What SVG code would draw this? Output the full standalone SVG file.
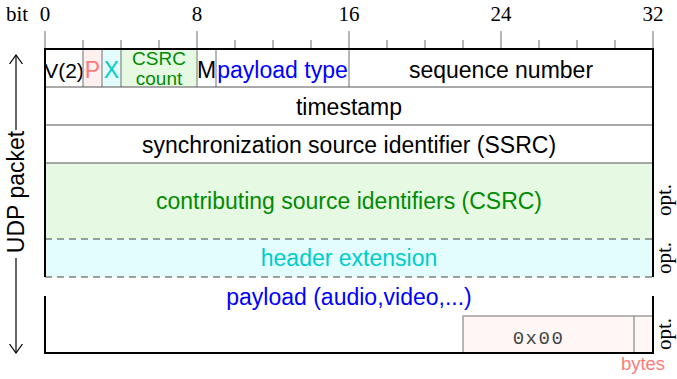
<svg xmlns="http://www.w3.org/2000/svg" width="677" height="379" viewBox="0 0 677 379">
<defs>
<style>
.s{font-family:"Liberation Sans",Arial,sans-serif;font-size:23px;text-anchor:middle}
.r{font-family:"Liberation Serif","Times New Roman",serif;font-size:21px;text-anchor:middle;fill:#000}
.tk{stroke:#888;stroke-width:1.2}
.dv{stroke:#888;stroke-width:1.2}
.rw{stroke:#555;stroke-width:1.2}
.bd{stroke:#000;stroke-width:2;fill:none}
.ds{stroke:#444;stroke-width:1.2;stroke-dasharray:7,5}
</style>
<marker id="ah" viewBox="0 0 10 20" refX="9" refY="10" markerWidth="10" markerHeight="20" markerUnits="userSpaceOnUse" orient="auto-start-reverse">
<path d="M0,3.5 L9,10 L0,16.5" fill="none" stroke="#000" stroke-width="1.2"/>
</marker>
</defs>
<rect width="677" height="379" fill="#fff"/>

<g id="scale">
<text class="r" x="17" y="21">bit</text>
<text class="r" x="45" y="21">0</text>
<text class="r" x="197" y="21">8</text>
<text class="r" x="349" y="21">16</text>
<text class="r" x="501" y="21">24</text>
<text class="r" x="653" y="21">32</text>
<path class="tk" d="M45,31V49M197,31V49M349,31V49M501,31V49M653,31V49"/>
<path class="tk" d="M83,40V49M121,40V49M159,40V49M235,40V49M273,40V49M311,40V49M387,40V49M425,40V49M463,40V49M539,40V49M577,40V49M615,40V49"/>
</g>

<g id="csrc-list">
<rect x="45" y="163" width="608" height="76" fill="#e6f9e3"/>
<text class="s" x="349" y="209" fill="#008c00">contributing source identifiers (CSRC)</text>
</g>
<g id="header-extension">
<rect x="45" y="239" width="608" height="38" fill="#e3fdfd"/>
<text class="s" x="349" y="266" fill="#00cccc">header extension</text>
</g>

<g id="version">
<text class="s" x="64" y="77.5" style="font-size:21px" fill="#000">V(2)</text>
</g>
<g id="padding-bit">
<rect x="83" y="49" width="19" height="38" fill="#fff0f0"/>
<text class="s" x="92.5" y="77.5" fill="#ff7b7b">P</text>
</g>
<g id="extension-bit">
<rect x="102" y="49" width="19" height="38" fill="#e3fdfd"/>
<text class="s" x="111.5" y="77.5" fill="#00cccc">X</text>
</g>
<g id="csrc-count">
<rect x="121" y="49" width="76" height="38" fill="#e6f9e3"/>
<text class="s" x="159" y="64.5" style="font-size:19px" fill="#008c00">CSRC</text>
<text class="s" x="159" y="85" style="font-size:19px" fill="#008c00">count</text>
</g>
<g id="marker-bit">
<text class="s" x="206.5" y="77.5" fill="#000">M</text>
</g>
<g id="payload-type">
<text class="s" x="282.5" y="77.5" fill="#0000ff">payload type</text>
</g>
<g id="sequence-number">
<text class="s" x="501" y="77.5" fill="#000">sequence number</text>
</g>
<g id="timestamp">
<text class="s" x="349" y="114.5" fill="#000">timestamp</text>
</g>
<g id="ssrc">
<text class="s" x="349" y="152.5" fill="#000">synchronization source identifier (SSRC)</text>
</g>
<g id="payload">
<text class="s" x="349" y="305" fill="#0000ff">payload (audio,video,...)</text>
</g>
<g id="padding">
<rect x="463" y="316" width="190" height="37" fill="#fff6f6" stroke="#888" stroke-width="1.2"/>
<line class="dv" x1="634" y1="316" x2="634" y2="353"/>
<text x="538.5" y="344" font-family="'Liberation Mono','Courier New',monospace" font-size="19" fill="#444" text-anchor="middle" letter-spacing="1.5">0x00</text>
<text x="643" y="370" font-family="'Liberation Sans',Arial,sans-serif" font-size="18.5" fill="#ff7b7b" text-anchor="middle">bytes</text>
</g>

<g id="grid">
<path class="dv" d="M83,49V87M102,49V87M121,49V87M197,49V87M216,49V87M349,49V87"/>
<path class="rw" d="M45,87H653M45,125H653M45,163H653"/>
<path class="ds" d="M45,239H653M45,277H653"/>
<path class="bd" d="M45,277V49H653V277"/>
<path class="bd" d="M45,296V353H653V296"/>
</g>

<g id="optional-labels">
<text class="r" transform="translate(671,200) rotate(-90)">opt.</text>
<text class="r" transform="translate(671,258) rotate(-90)">opt.</text>
<text class="r" transform="translate(671,334) rotate(-90)">opt.</text>
</g>

<g id="connectors">
<line x1="16" y1="130" x2="16" y2="55" stroke="#000" stroke-width="1.2" marker-end="url(#ah)"/>
<line x1="16" y1="258" x2="16" y2="353" stroke="#000" stroke-width="1.2" marker-end="url(#ah)"/>
<text class="s" transform="translate(24,192) rotate(-90)" fill="#000">UDP packet</text>
</g>
</svg>
